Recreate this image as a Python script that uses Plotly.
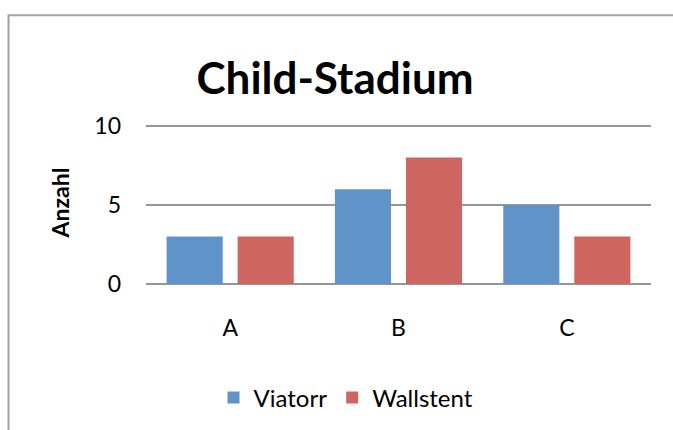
import plotly.graph_objects as go

categories = ["A", "B", "C"]
viatorr = [3, 6, 5]
wallstent = [3, 8, 3]
y_ticks = [0, 5, 10]

W, H = 673, 430
L, R, T, B = 146, 22, 121, 145
pw = W - L - R
ph = H - T - B

def px_x(x):
    return (x - L) / pw

def px_y(y):
    return (H - B - y) / ph

fig = go.Figure()
fig.add_trace(go.Bar(x=categories, y=viatorr, name="Viatorr", marker=dict(color="#6094C9", line_width=0)))
fig.add_trace(go.Bar(x=categories, y=wallstent, name="Wallstent", marker=dict(color="#CD6561", line_width=0)))

font = "Lato, Open Sans, sans-serif"
fig.update_layout(
    width=W, height=H,
    margin=dict(l=L, r=R, t=T, b=B),
    paper_bgcolor="white", plot_bgcolor="white",
    barmode="group", bargap=0.156, bargroupgap=0.21,
    font=dict(family=font, color="black"),
    title=dict(text="<b>Child-Stadium</b>", x=px_x(335), xref="paper", xanchor="center",
               y=1 - 79 / H, yref="container", yanchor="middle",
               font=dict(size=44, family=font, color="black")),
    showlegend=True,
    legend=dict(orientation="h", x=px_x(346), xanchor="center", y=px_y(398), yanchor="middle",
                font=dict(size=24, family=font), itemwidth=30, traceorder="normal"),
    xaxis=dict(showgrid=False, showline=False, ticks="", tickfont=dict(size=23), ticklabelstandoff=28),
    yaxis=dict(range=[0, 10.31], tickvals=y_ticks, showgrid=True, gridcolor="#969696", gridwidth=2,
               zeroline=True, zerolinecolor="#969696", zerolinewidth=2, showline=False,
               tickfont=dict(size=23), ticklabelstandoff=24,
               title=dict(text="<b>Anzahl</b>", font=dict(size=23), standoff=18)),
    shapes=[dict(type="rect", xref="paper", yref="paper",
                 x0=px_x(8.5), x1=px_x(700), y0=px_y(450), y1=px_y(14.5),
                 line=dict(color="#A0A0A0", width=2), fillcolor="rgba(0,0,0,0)", layer="below")],
)

fig.write_html("out.html")
